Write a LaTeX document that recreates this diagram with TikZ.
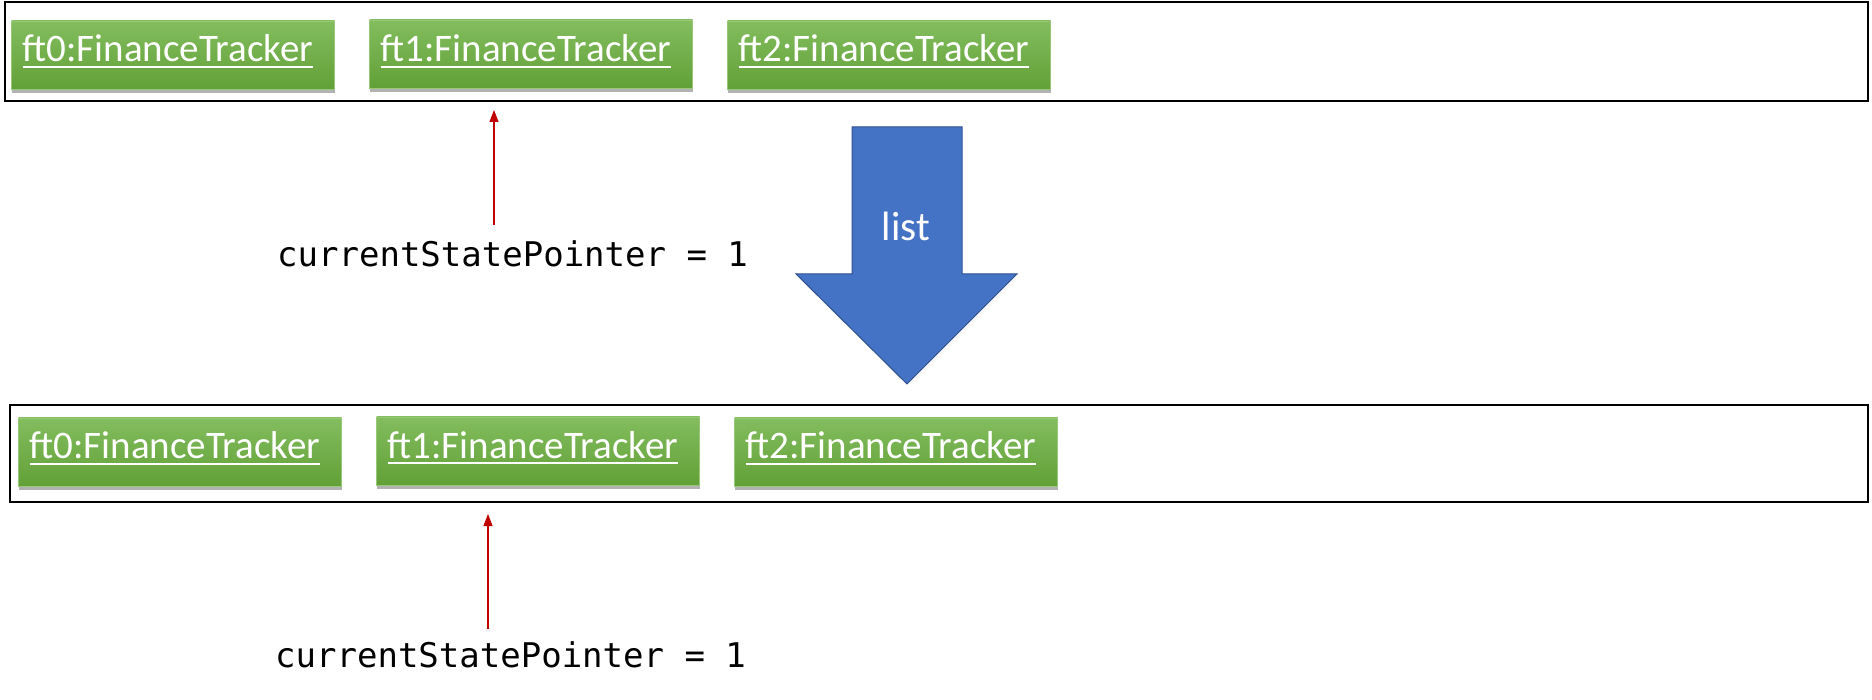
\documentclass[tikz,border=0pt]{standalone}
\usepackage{fontspec}
\usetikzlibrary{arrows.meta,shadows}
\newfontfamily\calfont{Carlito}
\newfontfamily\codefont{DejaVu Sans Mono}
\newcommand\ulx[1]{\leavevmode\vtop{\hbox{#1}\kern3.5pt\hrule height 2.2pt}}
\definecolor{gtop}{RGB}{131,189,94}
\definecolor{gbot}{RGB}{98,160,55}
\definecolor{gedge}{RGB}{150,200,120}
\definecolor{bluefill}{RGB}{68,114,196}
\definecolor{blueedge}{RGB}{47,82,143}
\definecolor{ptrred}{RGB}{192,0,0}
\tikzset{
  frame/.style={draw=black, line width=2pt},
  gbox/.style={draw=gedge, line width=0.6pt, top color=gtop, bottom color=gbot,
     minimum width=323pt, minimum height=68pt, inner sep=0pt,
     drop shadow={shadow xshift=0pt, shadow yshift=-4pt, opacity=0.3, fill=black}},
  gtext/.style={anchor=base, inner sep=0pt, text=white, font=\calfont\fontsize{39}{46}\selectfont},
  code/.style={anchor=base west, inner sep=0pt, font=\codefont\fontsize{34}{40}\selectfont},
  ptr/.style={draw=ptrred, line width=1.2pt, -{Triangle[length=12pt,width=9pt]}},
}
\begin{document}
\begin{tikzpicture}[x=1pt,y=-1pt]
\useasboundingbox (0,0) rectangle (1872,700);
% top frame
\draw[frame] (5,2) rectangle (1868,101);
\node[gbox] (a0) at (173,55) {};
\node[gtext] (ta0) at (168,62) {\ulx{ft0:FinanceTracker}};
\node[gbox] (a1) at (531,54) {};
\node[gtext] (ta1) at (526,62) {\ulx{ft1:FinanceTracker}};
\node[gbox] (a2) at (889,55) {};
\node[gtext] (ta2) at (884,62) {\ulx{ft2:FinanceTracker}};
% pointer 1
\node[code] (p1) at (277,267) {currentStatePointer = 1};
\coordinate (p1tail) at (494,225);
\coordinate (p1head) at (494,110);
\draw[ptr] (p1tail) -- (p1head);
% big arrow
\draw[draw=blueedge, line width=1pt, fill=bluefill]
  (852,127) -- (962,127) -- (962,274) -- (1017,274) -- (907,384) -- (796,274) -- (852,274) -- cycle;
\node[anchor=base, inner sep=0pt, text=white, font=\calfont\fontsize{41}{48}\selectfont] (lst) at (906,241) {list};
% bottom frame
\draw[frame] (10,405) rectangle (1868,502);
\node[gbox] (b0) at (180,452) {};
\node[gtext] (tb0) at (175,459) {\ulx{ft0:FinanceTracker}};
\node[gbox] (b1) at (538,451) {};
\node[gtext] (tb1) at (533,458) {\ulx{ft1:FinanceTracker}};
\node[gbox] (b2) at (896,452) {};
\node[gtext] (tb2) at (891,459) {\ulx{ft2:FinanceTracker}};
% pointer 2
\node[code] (p2) at (275,667) {currentStatePointer = 1};
\coordinate (p2tail) at (488,629);
\coordinate (p2head) at (488,514);
\draw[ptr] (p2tail) -- (p2head);
\end{tikzpicture}
\end{document}
